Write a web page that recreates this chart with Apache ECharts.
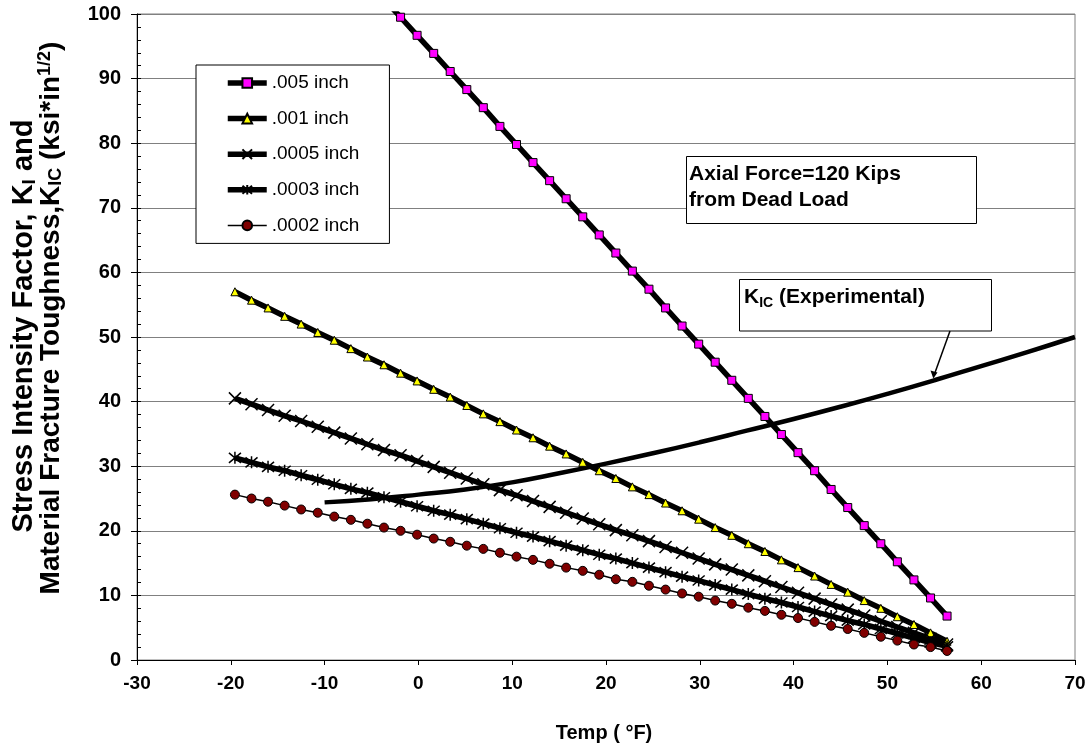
<!DOCTYPE html>
<html><head><meta charset="utf-8">
<script src="https://cdn.jsdelivr.net/npm/echarts@6/dist/echarts.min.js"></script>
<style>html,body{margin:0;padding:0;background:#fff}#c{width:1092px;height:751px}</style>
</head><body><div id="c"></div>
<script>
// ---- data ----
const temps = [-19.56,-17.79,-16.03,-14.26,-12.50,-10.73,-8.97,-7.20,-5.44,-3.67,
  -1.90,-0.14,1.63,3.39,5.16,6.92,8.69,10.46,12.22,13.99,
  15.75,17.52,19.28,21.05,22.81,24.58,26.35,28.11,29.88,31.64,
  33.41,35.17,36.94,38.70,40.47,42.24,44.00,45.77,47.53,49.30,
  51.06,52.83,54.60,56.36];
const s005 = [null,null,null,null,null,null,null,null,null,102.3,
  99.5,96.7,93.9,91.1,88.3,85.5,82.6,79.8,77.0,74.2,
  71.4,68.6,65.8,63.0,60.2,57.4,54.5,51.7,48.9,46.1,
  43.3,40.5,37.7,34.9,32.1,29.3,26.4,23.6,20.8,18.0,
  15.2,12.4,9.6,6.8];
const s001 = [57.0,55.7,54.5,53.2,52.0,50.7,49.5,48.2,46.9,45.7,
  44.4,43.2,41.9,40.7,39.4,38.1,36.9,35.6,34.4,33.1,
  31.9,30.6,29.3,28.1,26.8,25.6,24.3,23.1,21.8,20.5,
  19.3,18.0,16.8,15.5,14.3,13.0,11.7,10.5,9.2,8.0,
  6.7,5.5,4.2,2.9];
const s0005 = [40.5,39.6,38.7,37.8,37.0,36.1,35.2,34.3,33.4,32.5,
  31.7,30.8,29.9,29.0,28.1,27.2,26.3,25.5,24.6,23.7,
  22.8,21.9,21.0,20.1,19.3,18.4,17.5,16.6,15.7,14.8,
  14.0,13.1,12.2,11.3,10.4,9.5,8.6,7.8,6.9,6.0,
  5.1,4.2,3.3,2.4];
const s0003 = [31.3,30.6,29.9,29.3,28.6,27.9,27.2,26.5,25.9,25.2,
  24.5,23.8,23.1,22.5,21.8,21.1,20.4,19.7,19.1,18.4,
  17.7,17.0,16.3,15.7,15.0,14.3,13.6,12.9,12.3,11.6,
  10.9,10.2,9.5,8.9,8.2,7.5,6.8,6.1,5.5,4.8,
  4.1,3.4,2.7,2.1];
const s0002 = [25.6,25.0,24.5,23.9,23.3,22.8,22.2,21.7,21.1,20.5,
  20.0,19.4,18.8,18.3,17.7,17.2,16.6,16.0,15.5,14.9,
  14.3,13.8,13.2,12.5,12.1,11.5,10.9,10.3,9.8,9.2,
  8.7,8.1,7.6,7.0,6.5,5.9,5.3,4.8,4.2,3.6,
  3.0,2.4,2.0,1.4];
const kicTemps = [-10,-5,0,5,10,15,20,25,30,35,40,45,50,55,60,65,70];
const kicValues = [24.4,24.9,25.6,26.4,27.5,28.9,30.4,32.0,33.7,35.5,37.3,39.2,41.2,43.3,45.5,47.7,50.0];
const seriesNames = ['.005 inch','.001 inch','.0005 inch','.0003 inch','.0002 inch'];
const xMin = -30, xMax = 70, xStep = 10;
const yMin = 0, yMax = 100, yStep = 10, yMinorStep = 2;

// ---- chart ----
const FONT = 'Arial, "Liberation Sans", sans-serif';
const pairs = (xs, ys) => xs.map((x, i) => [x, ys[i]]);
const chart = echarts.init(document.getElementById('c'), null, {renderer: 'canvas'});
const thick = 5.5;
const X_PATH = 'path://M0,0L10,10M10,0L0,10';
const STAR_PATH = 'path://M0,0L10,10M10,0L0,10M5,-1L5,11';
const bold = (size) => ({fontSize: size, fontWeight: 'bold', fontFamily: FONT, fill: '#000'});

const option = {
  animation: false,
  backgroundColor: '#fff',
  grid: {left: 137, right: 17, top: 14, bottom: 91, show: true, borderColor: '#808080', borderWidth: 1},
  xAxis: {
    type: 'value', min: xMin, max: xMax, interval: xStep,
    axisLine: {onZero: false, lineStyle: {color: '#000', width: 1}},
    axisTick: {show: true, length: 5, lineStyle: {color: '#000'}},
    axisLabel: {fontSize: 19, fontWeight: 'bold', color: '#000', fontFamily: FONT, margin: 14},
    splitLine: {show: false}
  },
  yAxis: [{
    type: 'value', min: yMin, max: yMax, interval: yStep,
    axisLine: {show: true, onZero: false, lineStyle: {color: '#000', width: 1}},
    axisTick: {show: true, length: 6, lineStyle: {color: '#000'}},
    axisLabel: {fontSize: 20, fontWeight: 'bold', color: '#000', fontFamily: FONT, margin: 16},
    splitLine: {show: true, lineStyle: {color: '#808080', width: 1}}
  }, {
    type: 'value', min: yMin, max: yMax, interval: yMinorStep, position: 'left',
    axisLine: {show: false, onZero: false},
    axisTick: {show: true, inside: true, length: 4, lineStyle: {color: '#000'}},
    axisLabel: {show: false},
    splitLine: {show: false}
  }],
  legend: {
    orient: 'vertical', left: 196, top: 65,
    padding: [8, 30, 8, 29], itemGap: 15.6, itemWidth: 39, itemHeight: 12,
    backgroundColor: '#fff', borderColor: '#000', borderWidth: 1, borderRadius: 0,
    lineStyle: {width: 'inherit'},
    textStyle: {fontSize: 19, fontFamily: FONT, color: '#000', lineHeight: 20},
    data: seriesNames
  },
  series: [
    {name: seriesNames[0], type: 'line', data: pairs(temps, s005), symbol: 'rect', symbolSize: 8,
     lineStyle: {color: '#000', width: thick}, itemStyle: {color: '#FF00FF', borderColor: '#000', borderWidth: 1}},
    {name: seriesNames[1], type: 'line', data: pairs(temps, s001), symbol: 'triangle', symbolSize: 8,
     lineStyle: {color: '#000', width: thick}, itemStyle: {color: '#FFFF00', borderColor: '#000', borderWidth: 1}},
    {name: seriesNames[2], type: 'line', data: pairs(temps, s0005), symbol: X_PATH, symbolSize: 12,
     lineStyle: {color: '#000', width: thick}, itemStyle: {color: '#000', borderColor: '#000', borderWidth: 1.5}},
    {name: seriesNames[3], type: 'line', data: pairs(temps, s0003), symbol: STAR_PATH, symbolSize: 12,
     lineStyle: {color: '#000', width: thick}, itemStyle: {color: '#000', borderColor: '#000', borderWidth: 1.5}},
    {name: seriesNames[4], type: 'line', data: pairs(temps, s0002), symbol: 'circle', symbolSize: 9,
     lineStyle: {color: '#000', width: 1.5}, itemStyle: {color: '#800000', borderColor: '#000', borderWidth: 1}},
    {name: 'KIC (Experimental)', type: 'line', data: pairs(kicTemps, kicValues), symbol: 'none', smooth: true,
     lineStyle: {color: '#000', width: 4.5}}
  ],
  graphic: [
    // y axis title, two lines rotated
    {type: 'text', x: 24, y: 326, rotation: Math.PI / 2,
     style: {text: '{a|Stress Intensity Factor, K}{s|I}{a| and}', align: 'center', verticalAlign: 'middle',
       rich: {a: Object.assign(bold(29), {lineHeight: 30}),
              s: Object.assign(bold(19), {lineHeight: 30, verticalAlign: 'bottom'})}}},
    {type: 'text', x: 51, y: 318, rotation: Math.PI / 2,
     style: {text: '{a|Material Fracture Toughness,K}{s|IC}{a| (ksi*in}{p|1/2}{a|)}', align: 'center', verticalAlign: 'middle',
       rich: {a: Object.assign(bold(28), {lineHeight: 29}),
              s: Object.assign(bold(18), {lineHeight: 29, verticalAlign: 'bottom'}),
              p: Object.assign(bold(18), {lineHeight: 29, verticalAlign: 'top'})}}},
    // x axis title
    {type: 'text', x: 604, y: 733,
     style: {text: 'Temp ( °F)', align: 'center', verticalAlign: 'middle', font: 'bold 20px ' + FONT, fill: '#000'}},
    // Axial force box
    {type: 'rect', shape: {x: 686.5, y: 156.5, width: 290, height: 67}, style: {fill: '#fff', stroke: '#000', lineWidth: 1}, z: 100},
    {type: 'text', x: 689, y: 174, z: 101,
     style: {text: 'Axial Force=120 Kips', verticalAlign: 'middle', font: 'bold 21px ' + FONT, fill: '#000'}},
    {type: 'text', x: 689, y: 200, z: 101,
     style: {text: 'from Dead Load', verticalAlign: 'middle', font: 'bold 21px ' + FONT, fill: '#000'}},
    // KIC box
    {type: 'rect', shape: {x: 739.5, y: 279.5, width: 252, height: 51.5}, style: {fill: '#fff', stroke: '#000', lineWidth: 1}, z: 100},
    {type: 'text', x: 744, y: 297, z: 101,
     style: {text: '{a|K}{s|IC}{a| (Experimental)}', verticalAlign: 'middle',
       rich: {a: Object.assign(bold(21), {lineHeight: 26}),
              s: Object.assign(bold(14), {lineHeight: 26, verticalAlign: 'bottom'})}}},
    // arrow
    {type: 'line', shape: {x1: 950, y1: 331, x2: 934.5, y2: 374}, style: {stroke: '#000', lineWidth: 1.5}, z: 101},
    {type: 'polygon', shape: {points: [[933.3, 378.5], [930.5, 370.5], [937.5, 372.5]]}, style: {fill: '#000'}, z: 101}
  ]
};
chart.setOption(option);
</script>
</body></html>
